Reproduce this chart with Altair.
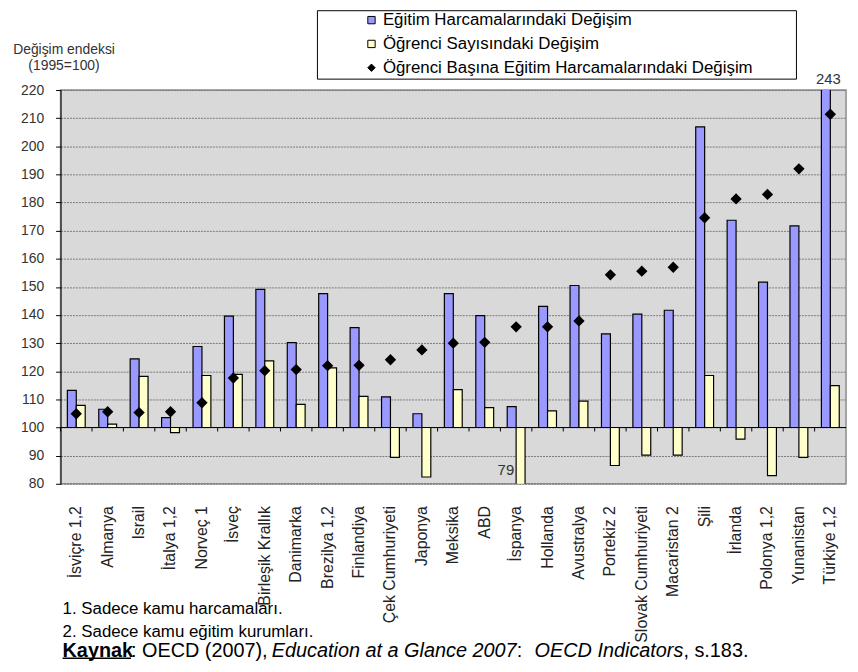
import altair as alt
import pandas as pd

countries = ["İsviçre 1,2", "Almanya", "Israil", "İtalya 1,2", "Norveç 1", "İsveç",
             "Birleşik Krallık", "Danimarka", "Brezilya 1,2", "Finlandiya",
             "Çek Cumhuriyeti", "Japonya", "Meksika", "ABD", "İspanya", "Hollanda",
             "Avustralya", "Portekiz 2", "Slovak Cumhuriyeti", "Macaristan 2", "Şili",
             "İrlanda", "Polonya 1,2", "Yunanistan", "Türkiye 1,2"]

harcama = [113.2, 106.5, 124.4, 103.5, 128.8, 139.6, 149.1, 130.2, 147.6, 135.5,
           110.9, 104.9, 147.6, 139.8, 107.4, 143.1, 150.5, 133.3, 140.3, 141.7,
           206.9, 173.7, 151.7, 171.7, 243]
ogrenci = [107.9, 101.2, 118.2, 98.2, 118.5, 118.9, 123.7, 108.2, 121.2, 111.1,
           89.4, 82.4, 113.5, 107.1, 79, 105.9, 109.4, 86.5, 90.2, 90.2,
           118.5, 95.9, 82.9, 89.4, 114.9]
basina = [104.9, 105.6, 105.3, 105.6, 108.8, 117.6, 120.2, 120.6, 122.0, 122.1,
          124.1, 127.6, 130.0, 130.3, 135.8, 135.8, 137.9, 154.3, 155.6, 157.0,
          174.6, 181.3, 182.9, 192.0, 211.4]

series = ["Eğitim Harcamalarındaki Değişim",
          "Öğrenci Sayısındaki Değişim",
          "Öğrenci Başına Eğitim Harcamalarındaki Değişim"]
colors = ["#9999FF", "#FFFFCC", "#000000"]
shapes = ["square", "square", "diamond"]

y_ticks = list(range(80, 221, 10))
y_min, y_max, base = 80, 220, 100

footnote1 = "1. Sadece kamu harcamaları."
footnote2 = "2. Sadece kamu eğitim kurumları."
src_bold = "Kaynak"
src_a = ": OECD (2007), "
src_it1 = "Education at a Glance 2007"
src_b = " : "
src_it2 = "OECD Indicators"
src_c = ", s.183."

FONT = "Liberation Sans"

rows = []
for i, c in enumerate(countries):
    for s, vals in zip(series, [harcama, ogrenci, basina]):
        rows.append({"country": c, "series": s, "value": vals[i]})
df = pd.DataFrame(rows)

# out-of-range annotations
ann = []
for i, c in enumerate(countries):
    if harcama[i] > y_max:
        ann.append({"country": c, "label": str(int(harcama[i])), "pos": y_max, "kind": "top"})
    if ogrenci[i] < y_min:
        ann.append({"country": c, "label": str(int(ogrenci[i])), "pos": y_min, "kind": "bottom"})
ann_df = pd.DataFrame(ann)

xaxis = alt.Axis(title=None, labelAngle=-90, labelFontSize=16, labelFont=FONT,
                 labelColor="#222222", labelPadding=22, ticks=False, domain=False,
                 labelLimit=300)
xenc = alt.X("country:N", sort=countries,
             scale=alt.Scale(paddingInner=0, paddingOuter=0), axis=xaxis)
yscale = alt.Scale(domain=[y_min, y_max], nice=False, zero=False)
yaxis = alt.Axis(values=y_ticks, title=["Değişim endeksi", "(1995=100)"],
                 labelOverlap=False,
                 titleAngle=0, titleAlign="center", titleBaseline="top",
                 titleX=3, titleY=-48, titleFontSize=14, titleFont=FONT,
                 titleFontWeight="normal", titleColor="#333333", titleLineHeight=16,
                 labelFontSize=14, labelFont=FONT, labelColor="#333333",
                 labelPadding=12, tickSize=5, tickColor="#000000",
                 domainColor="#000000", gridColor="#7a7a7a", gridDash=[2, 1],
                 gridWidth=1)
yenc = alt.Y("value:Q", scale=yscale, axis=yaxis)
legend = alt.Legend(orient="none", legendX=305, legendY=-79, title=None,
                    labelFontSize=17, labelFont=FONT, labelColor="#000000", labelLimit=600,
                    symbolSize=55, symbolStrokeColor="#000000", symbolStrokeWidth=1,
                    rowPadding=6, labelOffset=3, padding=0)
cenc = alt.Color("series:N", scale=alt.Scale(domain=series, range=colors), legend=legend)
senc = alt.Shape("series:N", scale=alt.Scale(domain=series, range=shapes), legend=legend)

one = alt.Data(values=[{"a": 1}])

frame = alt.Chart(one).mark_rect(fill="white", stroke="black", strokeWidth=1).encode(
    x=alt.value(259), x2=alt.value(742), y=alt.value(-80), y2=alt.value(-11))

baseline = alt.Chart(one).mark_rule(color="black", strokeWidth=1).encode(
    y=alt.YDatum(base, scale=yscale, axis=yaxis))

ticks = alt.Chart(pd.DataFrame({"country": countries})).mark_rule(
    color="black", strokeWidth=1).encode(
    x=alt.X("country:N", sort=countries, bandPosition=0, axis=xaxis),
    y=alt.YDatum(base, scale=yscale, axis=yaxis), y2=alt.datum(base - 1.4))

bars1 = alt.Chart(df).transform_filter(alt.datum.series == series[0]).mark_bar(
    width=9, xOffset=-4.5, clip=True, stroke="black", strokeWidth=1.2).encode(
    x=xenc, y=yenc, y2=alt.datum(base), color=cenc)

bars2 = alt.Chart(df).transform_filter(alt.datum.series == series[1]).mark_bar(
    width=9, xOffset=4.5, clip=True, stroke="black", strokeWidth=1.2).encode(
    x=xenc, y=yenc, y2=alt.datum(base), color=cenc)

points = alt.Chart(df).transform_filter(alt.datum.series == series[2]).mark_point(
    filled=True, size=130, opacity=1).encode(
    x=xenc, y=yenc, color=cenc, shape=senc)

top_lbl = alt.Chart(ann_df).transform_filter(alt.datum.kind == "top").mark_text(
    fontSize=15, font=FONT, color="#333333", dy=-11, xOffset=-2, baseline="middle").encode(
    x=xenc, y=alt.Y("pos:Q", scale=yscale, axis=yaxis), text="label:N")

bot_lbl = alt.Chart(ann_df).transform_filter(alt.datum.kind == "bottom").mark_text(
    fontSize=15, font=FONT, color="#333333", dy=-14, xOffset=-2, align="right",
    baseline="middle").encode(
    x=xenc, y=alt.Y("pos:Q", scale=yscale, axis=yaxis), text="label:N")


def txt(s, x, y, size=17, weight="normal", style="normal"):
    return alt.Chart(one).mark_text(text=s, align="left", baseline="middle", font=FONT,
                                    fontSize=size, fontWeight=weight, fontStyle=style,
                                    color="#000000").encode(x=alt.value(x), y=alt.value(y))


foot = [
    txt(footnote1, 2, 523),
    txt(footnote2, 2, 546),
    txt(src_bold, 2, 566, 20, "bold"),
    txt(src_a, 71, 566, 20),
    txt(src_it1, 213, 566, 20, style="italic"),
    txt(src_b, 460, 566, 20),
    txt(src_it2, 478, 566, 20, style="italic"),
    txt(src_c, 628, 566, 20),
]
underline = alt.Chart(one).mark_rule(color="black", strokeWidth=1.5).encode(
    x=alt.value(2), x2=alt.value(71), y=alt.value(573))

chart = alt.layer(frame, bars1, bars2, baseline, ticks, points, top_lbl, bot_lbl,
                  underline, *foot).properties(
    width=792, height=397,
    autosize=alt.AutoSizeParams(type="none"),
    padding={"left": 53, "top": 80, "right": 4, "bottom": 179},
).configure_view(fill="#D9D9D9", stroke="#8C8C8C", strokeWidth=1.5
).resolve_scale(y="shared", x="shared")

chart.save("out.html", embed_options={"renderer": "svg", "actions": False})
